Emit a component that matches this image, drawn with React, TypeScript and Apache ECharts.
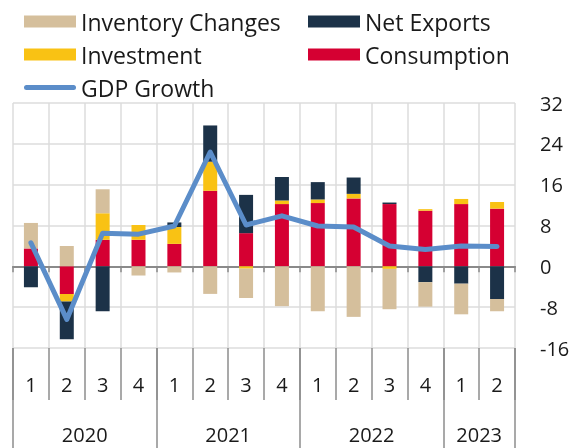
import React, { useEffect, useRef } from "react";
import * as echarts from "echarts";

const quarters = ["1", "2", "3", "4", "1", "2", "3", "4", "1", "2", "3", "4", "1", "2"];
const years = ["2020", "2021", "2022", "2023"];
const yearSpans = [4, 4, 4, 2];

const consumption = [3.5, -5.4, 5.2, 5.2, 4.4, 14.8, 6.5, 12.2, 12.4, 13.3, 12.2, 10.9, 12.2, 11.3];
const investment = [0, -1.5, 5.2, 2.9, 3.3, 5.7, -0.45, 0.7, 0.7, 0.9, -0.5, 0.3, 1.0, 1.3];
const netExports = [-4.1, -7.4, -8.8, 0, 0.9, 7.1, 7.5, 4.6, 3.4, 3.2, 0.3, -3.1, -3.4, -6.4];
const inventoryChanges = [5.0, 4.0, 4.7, -1.8, -1.2, -5.4, -5.75, -7.8, -8.8, -9.9, -7.9, -4.8, -6.0, -2.4];
const gdpGrowth = [4.6, -10.4, 6.5, 6.3, 7.9, 22.4, 8.1, 9.9, 7.9, 7.7, 4.0, 3.3, 4.0, 3.9];

const yTicks = { min: -16, max: 32, interval: 8 };

const COLORS = {
  inventory: "#D5BF9C",
  netExports: "#1C3248",
  investment: "#F9C214",
  consumption: "#D50032",
  gdp: "#5B8DC9",
};

const FONT = "'Open Sans', 'Noto Sans', sans-serif";
const TEXT = "#1a1a1a";
const LINE_ICON = "path://M2.5,0 L49.5,0 A2.5,2.5 0 0 1 49.5,5 L2.5,5 A2.5,2.5 0 0 1 2.5,0 Z";

export default function App() {
  const ref = useRef<HTMLDivElement>(null);

  useEffect(() => {
    if (!ref.current) return;
    const chart = echarts.init(ref.current, null, { renderer: "svg" });

    const yearBounds: number[] = [0];
    const yearCenters: number[] = [];
    let acc = 0;
    yearSpans.forEach((s) => {
      yearCenters.push(acc + s / 2);
      acc += s;
      yearBounds.push(acc);
    });

    const legendText = { fontSize: 23, color: TEXT, fontFamily: FONT, lineHeight: 22 };
    const legendBase = {
      orient: "vertical",
      top: 5,
      padding: 5,
      itemWidth: 52,
      itemHeight: 12,
      itemGap: 10,
      textStyle: legendText,
    };

    chart.setOption({
      animation: false,
      textStyle: { fontFamily: FONT },
      grid: { left: 13, right: 61, top: 103, bottom: 100, containLabel: false },
      legend: [
        {
          ...legendBase,
          left: 19,
          data: [
            { name: "Inventory Changes", icon: "rect" },
            { name: "Investment", icon: "rect" },
            { name: "GDP Growth", icon: LINE_ICON },
          ],
        },
        {
          ...legendBase,
          left: 303,
          data: [
            { name: "Net Exports", icon: "rect" },
            { name: "Consumption", icon: "rect" },
          ],
        },
      ],
      xAxis: [
        {
          type: "category",
          data: quarters,
          position: "bottom",
          axisLine: { show: false, onZero: false },
          axisTick: { show: true, length: 52, lineStyle: { color: "#8c8c8c", width: 1.5 } },
          axisLabel: { fontSize: 20, color: TEXT, margin: 26, fontFamily: FONT },
          splitLine: { show: true, lineStyle: { color: "#dcdcdc", width: 1.5 } },
        },
        {
          type: "category",
          data: quarters,
          position: "bottom",
          axisLine: { show: true, onZero: true, lineStyle: { color: "#8a8a8a", width: 2 } },
          axisTick: { show: true, length: 6, lineStyle: { color: "#8a8a8a", width: 1.5 } },
          axisLabel: { show: false },
          splitLine: { show: false },
        },
        {
          type: "value",
          min: 0,
          max: quarters.length,
          position: "bottom",
          axisLine: { show: false, onZero: false },
          axisTick: {
            show: true,
            length: 100,
            customValues: yearBounds,
            lineStyle: { color: "#8c8c8c", width: 1.5 },
          },
          axisLabel: {
            show: true,
            customValues: yearCenters,
            margin: 76,
            fontSize: 20,
            color: TEXT,
            fontFamily: FONT,
            formatter: (v: number) => {
              const i = yearCenters.findIndex((c) => Math.abs(c - v) < 1e-6);
              return i >= 0 ? years[i] : "";
            },
          },
          splitLine: { show: false },
        },
      ],
      yAxis: {
        type: "value",
        position: "right",
        min: yTicks.min,
        max: yTicks.max,
        interval: yTicks.interval,
        axisLine: { show: false },
        axisTick: { show: false },
        axisLabel: { fontSize: 20, color: TEXT, margin: 25, fontFamily: FONT },
        splitLine: { show: true, lineStyle: { color: "#dcdcdc", width: 1.5 } },
      },
      series: [
        {
          name: "Consumption",
          type: "bar",
          stack: "total",
          barWidth: 14,
          xAxisIndex: 0,
          data: consumption,
          itemStyle: { color: COLORS.consumption },
        },
        {
          name: "Investment",
          type: "bar",
          stack: "total",
          barWidth: 14,
          xAxisIndex: 0,
          data: investment,
          itemStyle: { color: COLORS.investment },
        },
        {
          name: "Net Exports",
          type: "bar",
          stack: "total",
          barWidth: 14,
          xAxisIndex: 0,
          data: netExports,
          itemStyle: { color: COLORS.netExports },
        },
        {
          name: "Inventory Changes",
          type: "bar",
          stack: "total",
          barWidth: 14,
          xAxisIndex: 0,
          data: inventoryChanges,
          itemStyle: { color: COLORS.inventory },
        },
        {
          name: "GDP Growth",
          type: "line",
          xAxisIndex: 0,
          data: gdpGrowth,
          symbol: "none",
          z: 10,
          lineStyle: { color: COLORS.gdp, width: 5, cap: "round", join: "round" },
          itemStyle: { color: COLORS.gdp },
        },
      ],
    });

    return () => chart.dispose();
  }, []);

  return (
    <div
      ref={ref}
      style={{ position: "fixed", left: 0, top: 0, width: 576, height: 448 }}
    />
  );
}
